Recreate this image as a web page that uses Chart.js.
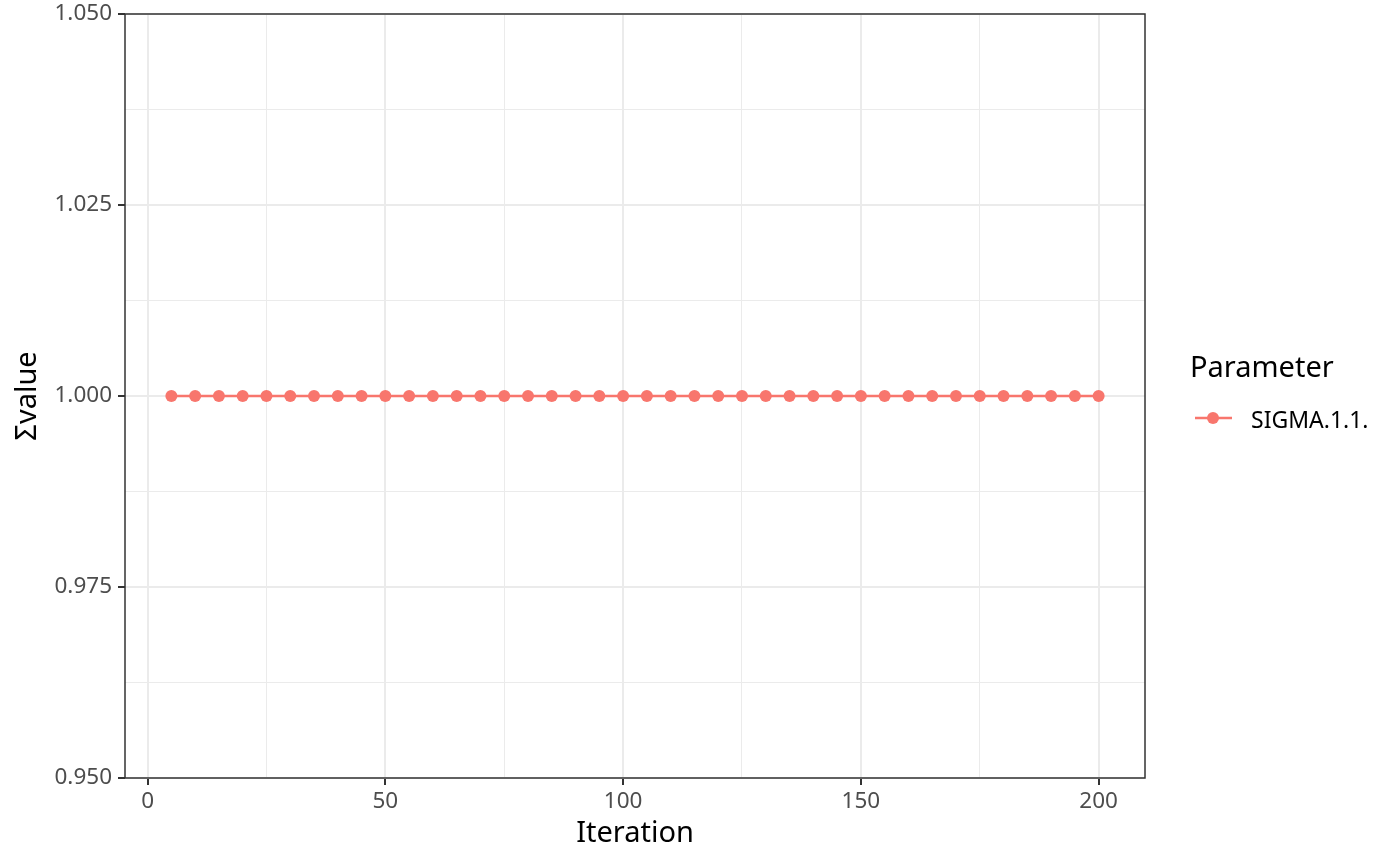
<!DOCTYPE html>
<html>
<head>
<meta charset="utf-8">
<script src="https://cdn.jsdelivr.net/npm/chart.js@4/dist/chart.umd.min.js"></script>
<style>
  body { margin: 0; background: #fff; }
  canvas { display: block; }
</style>
</head>
<body>
<canvas id="grafico" width="1400" height="865"></canvas>
<script>
// ==========================
//  Datos
// ==========================
const iteraciones = [5, 10, 15, 20, 25, 30, 35, 40, 45, 50,
  55, 60, 65, 70, 75, 80, 85, 90, 95, 100,
  105, 110, 115, 120, 125, 130, 135, 140, 145, 150,
  155, 160, 165, 170, 175, 180, 185, 190, 195, 200];
const valoresSigma = [1, 1, 1, 1, 1, 1, 1, 1, 1, 1,
  1, 1, 1, 1, 1, 1, 1, 1, 1, 1,
  1, 1, 1, 1, 1, 1, 1, 1, 1, 1,
  1, 1, 1, 1, 1, 1, 1, 1, 1, 1];
const nombreSerie = "SIGMA.1.1.";
const tituloLeyenda = "Parameter";

const xMayores = [0, 50, 100, 150, 200];
const xMenores = [25, 75, 125, 175];
const yMayores = [0.95, 0.975, 1.0, 1.025, 1.05];
const yMenores = [0.9625, 0.9875, 1.0125, 1.0375];

const ROJO = "#F8766D";
const FUENTE = '"Noto Sans", "Open Sans", sans-serif';

Chart.defaults.font.family = FUENTE;

// construye ticks mayores + menores
function armarTicks(mayores, menores) {
  return mayores.concat(menores)
    .sort((a, b) => a - b)
    .map((v) => ({ value: v, esMayor: mayores.includes(v) }));
}

const esMayor = (ctx) => ctx.tick && ctx.tick.esMayor;

// ==========================
//  Borde del panel y leyenda
// ==========================
const panelYLeyenda = {
  id: "panelYLeyenda",
  afterDraw(chart) {
    const { ctx, chartArea: a } = chart;
    ctx.save();
    ctx.strokeStyle = "#333333";
    ctx.lineWidth = 1.5;
    ctx.strokeRect(a.left, a.top, a.right - a.left, a.bottom - a.top);

    // leyenda
    ctx.fillStyle = "#000";
    ctx.textBaseline = "alphabetic";
    ctx.textAlign = "left";
    ctx.font = "29px " + FUENTE;
    ctx.fillText(tituloLeyenda, 1190, 377);

    ctx.strokeStyle = ROJO;
    ctx.lineWidth = 2.5;
    ctx.beginPath();
    ctx.moveTo(1195, 418);
    ctx.lineTo(1232, 418);
    ctx.stroke();
    ctx.fillStyle = ROJO;
    ctx.beginPath();
    ctx.arc(1213, 418, 6, 0, Math.PI * 2);
    ctx.fill();

    ctx.fillStyle = "#000";
    ctx.font = "23px " + FUENTE;
    ctx.fillText(chart.data.datasets[0].label, 1251, 428);
    ctx.restore();
  },
};

new Chart(document.getElementById("grafico").getContext("2d"), {
  type: "line",
  data: {
    labels: iteraciones,
    datasets: [
      {
        label: nombreSerie,
        data: iteraciones.map((x, i) => ({ x: x, y: valoresSigma[i] })),
        borderColor: ROJO,
        backgroundColor: ROJO,
        borderWidth: 2.5,
        pointRadius: 6,
        pointBorderWidth: 0,
        pointBackgroundColor: ROJO,
        tension: 0,
      },
    ],
  },
  options: {
    responsive: false,
    animation: false,
    devicePixelRatio: 1,
    layout: { padding: { top: 14, right: 255, left: 0, bottom: 0 } },
    plugins: { legend: { display: false }, tooltip: { enabled: false } },
    scales: {
      x: {
        type: "linear",
        min: -4.75,
        max: 209.75,
        afterBuildTicks: (s) => { s.ticks = armarTicks(xMayores, xMenores); },
        afterFit: (s) => {
          s.height = 87;
          s.paddingLeft = 0;
          s.paddingRight = 0;
        },
        border: { display: false },
        grid: {
          color: "#EBEBEB",
          lineWidth: (c) => (esMayor(c) ? 2 : 1),
          tickColor: (c) => (esMayor(c) ? "#333333" : "rgba(0,0,0,0)"),
          tickWidth: 2,
          tickLength: 7,
        },
        ticks: {
          autoSkip: false,
          maxRotation: 0,
          padding: 3,
          color: "#4D4D4D",
          font: { size: 22.5 },
          callback: (v, i, t) => (t[i].esMayor ? String(v) : ""),
        },
        title: {
          display: true,
          text: "Iteration",
          color: "#000",
          font: { size: 29 },
          padding: { top: 0, bottom: 14 },
        },
      },
      y: {
        min: 0.95,
        max: 1.05,
        afterBuildTicks: (s) => { s.ticks = armarTicks(yMayores, yMenores); },
        afterFit: (s) => {
          s.width = 125;
          s.paddingTop = 0;
          s.paddingBottom = 0;
        },
        border: { display: false },
        grid: {
          color: "#EBEBEB",
          lineWidth: (c) => (esMayor(c) ? 2 : 1),
          tickColor: (c) => (esMayor(c) ? "#333333" : "rgba(0,0,0,0)"),
          tickWidth: 2,
          tickLength: 7,
        },
        ticks: {
          autoSkip: false,
          padding: 6,
          color: "#4D4D4D",
          font: { size: 22.5 },
          callback: (v, i, t) => (t[i].esMayor ? Number(v).toFixed(3) : ""),
        },
        title: {
          display: true,
          text: "Σvalue",
          color: "#000",
          font: { size: 29 },
          padding: { top: 10, bottom: 0 },
        },
      },
    },
  },
  plugins: [panelYLeyenda],
});
</script>
</body>
</html>
